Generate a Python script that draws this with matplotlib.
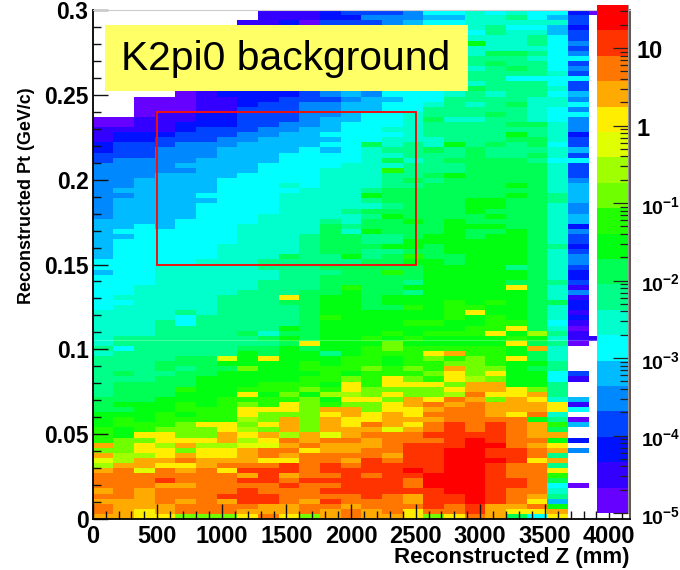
import numpy as np
import matplotlib
matplotlib.use('Agg')
import matplotlib.pyplot as plt
from matplotlib.colors import ListedColormap, BoundaryNorm
from matplotlib.patches import Rectangle
from matplotlib.ticker import LogLocator, NullFormatter, MultipleLocator

plt.rcParams['font.family'] = ['Liberation Sans', 'DejaVu Sans']
plt.rcParams['mathtext.fontset'] = 'custom'
plt.rcParams['mathtext.bf'] = 'Liberation Sans:bold'

# 20 palette steps, bottom to top
level_colors = ['#6600ff', '#3300ff', '#0011ff', '#0044ff', '#0088ff', '#00bbff', '#00ffff',
                '#00ffcc', '#00ff88', '#00ff55', '#00ff11', '#22ff00', '#70ff00', '#a0ff00',
                '#e0ff00', '#ffee00', '#ffaa00', '#ff7700', '#ff3300', '#ff0000']
level_chars = '0123456789abcdefghij'

# one string per Pt bin, top row first, one char per Z bin. '.' = empty bin
cell_rows = [
    "........11123334667676620",
    "........1112244455778653.",
    ".......11203334566777773.",
    "..................786652.",
    "..................687753.",
    "..................777863.",
    "..................a77864.",
    "..................777763.",
    "..................799864.",
    "..................888766.",
    "..................898863.",
    "..................789864.",
    "..................888873.",
    "..................886666.",
    "..................788863.",
    "..................988873.",
    "....01222234546667878865.",
    "..0001122333455668888774.",
    "..0001123344556678789776.",
    "..0001133344556688888764.",
    "..0112233344566788898766.",
    "001112233345566797788764.",
    "001122233445666788889974.",
    "111123334455667788888874.",
    "12223334455666678888a872.",
    "122333445555667778889973.",
    "23334445555669787a898963.",
    "233444555565678898988875.",
    "333444555666677888988973.",
    "344445555666679789999866.",
    "444455556666777888999973.",
    "44444555666777b888999973.",
    "44455556666777889a999973.",
    "445555666667778989999974.",
    "44555566676777889999a975.",
    "455555666677789999999975.",
    "4455566667777a999999a985.",
    "455555666777789999aa9985.",
    "455556666777778999aa9974.",
    "455556666777899999a99974.",
    "45555666777778a9999a9975.",
    "555566667778799a9a999975.",
    "55656667777989999aaa9972.",
    "5666666777797a999a99a974.",
    "5566666777899889aa9aa973.",
    "566666677789988aaaaaa973.",
    "56666677778999aa9aaaa982.",
    "56666677778998899aaaa973.",
    "566666777988a89b99aaa974.",
    "666667778888899aa9aaa974.",
    "6667777788899999aaaa8973.",
    "56677777788899b9aaaaa972.",
    "6667777778899999aaaaa972.",
    "6667777788899998aaaa9983.",
    "667777778889b99aaaaaf971.",
    "667777788899a998aaaaa974.",
    "677777888f9aa9aaaaaaa971.",
    "66777788899aa9aaababa992.",
    "67777788889aa99babbaa972.",
    "77778788889aaaaaabfaa971.",
    "77776888889baaaaababa972.",
    "77786888889aaaabbaabb961.",
    "777888888a9aaaaaaabbf970.",
    "77788889799aaababbbfad81.",
    "788888889a9aababaaaaba711",
    "7888888889faaacaaaaaf980.",
    "868888899a9aabcbbbbbag7..",
    "7888888a9aa8abbbfgbba97..",
    "888899eafaaabbabcbcbf97..",
    "888999aaaababbabbccbaa8..",
    "8889899caabbbcbcbgcca98..",
    "898899aaaaababbbcfcfaa63.",
    "88899aaaaabbcbfcbfdcaa61.",
    "89999aaabbbafbfffcggaa8..",
    "8999baabbbcbfccccfggfc8..",
    "8999aaafacaddcfccdhffg8..",
    "999aaabbbbcaffcgfhgcgf75.",
    "9aaababcbfcbccfghghgggf1.",
    "99aabbbfffcggcffghhgggf6.",
    "aaababbfcccfgfgfhhhgfh7..",
    "ababbbbdcgcgffggghhhha80.",
    "abbbcffcfgcgfhgfhihihgb5.",
    "babcccfdcgcgggeghihihg9..",
    "baffccgfgdgeghhhiiiihgg..",
    "bccfffgdfhghhghhhijihha2.",
    "gcfdgddeeghggghiiijjhgf..",
    "ccffcffghhfgghhiijjiihg4.",
    "gddfgffghghhhhgiijjiih8..",
    "edgghgggffhhgihiijjjifg..",
    "dggffghhhihihiiiijjihh8..",
    "ghehghfiiihiiiijijjihhf..",
    "hhhhhhhgighhihiijjjihhb..",
    "hhhihhhiihiiiiihjjjiih9..",
    "hhhgghhhhihhiiihjjjiih60.",
    "ghghhhhihhhiiiiiijjihh7..",
    "hhghhhiiihhhhihgiijihg8..",
    "ggghghgiihgihhhgiijihf5..",
    "hggghhhhgghhghhhihiggha..",
    "hgfghhhggghghghfhhigffg..",
    "ggffcccfhfcghggfcfhg96f..",
]

z_bin_width = 160
pt_bin_width = 0.003
cbar_decade_ticks = [1e-5, 1e-4, 1e-3, 1e-2, 1e-1, 1, 10]
cbar_tick_labels = [r'$\mathbf{10^{-5}}$', r'$\mathbf{10^{-4}}$', r'$\mathbf{10^{-3}}$',
                    r'$\mathbf{10^{-2}}$', r'$\mathbf{10^{-1}}$', '1', '10']

W, H = 680, 570


def px_axes(x0, y0, x1, y1):
    # pixel box with y from the top of the picture
    return fig.add_axes([x0 / W, 1 - y1 / H, (x1 - x0) / W, (y1 - y0) / H])


log_lo, log_hi = -5, 1.555
edges = np.logspace(log_lo, log_hi, 21)
mids = np.sqrt(edges[:-1] * edges[1:])
cmap = ListedColormap(level_colors)
cmap.set_bad('white')
norm = BoundaryNorm(edges, 20)

values = np.full((100, 25), np.nan)
for i, row in enumerate(cell_rows):
    for j, ch in enumerate(row):
        if ch != '.':
            values[99 - i, j] = mids[level_chars.index(ch)]

fig = plt.figure(figsize=(W / 100, H / 100), dpi=100)
ax = px_axes(92.7, 10, 630, 519)
z_edges = np.arange(26) * z_bin_width
pt_edges = np.arange(101) * pt_bin_width
ax.pcolormesh(z_edges, pt_edges, np.ma.masked_invalid(values), cmap=cmap, norm=norm)
ax.set_xlim(0, 4160)
ax.set_ylim(0, 0.3)

ax.xaxis.set_minor_locator(MultipleLocator(100))
ax.yaxis.set_minor_locator(MultipleLocator(0.01))
ax.tick_params(which='major', direction='in', length=11, width=1.0, color='#111111')
ax.tick_params(which='minor', direction='in', length=5.5, width=1.0, color='#111111')
ax.set_xticks(np.arange(0, 4001, 500))
ax.set_xticklabels([str(v) for v in range(0, 4001, 500)], fontsize=17, fontweight='bold')
ax.set_yticks([0, 0.05, 0.1, 0.15, 0.2, 0.25, 0.3])
ax.set_yticklabels(['0', '0.05', '0.1', '0.15', '0.2', '0.25', '0.3'], fontsize=16.5, fontweight='bold')
ax.tick_params(axis='x', pad=4)
ax.tick_params(axis='y', pad=3)
for s in ['left', 'bottom']:
    ax.spines[s].set_linewidth(1.3)
ax.spines['top'].set_color('#cccccc')
ax.spines['top'].set_linewidth(0.8)
ax.spines['right'].set_color('#554444')
ax.spines['right'].set_linewidth(1.3)

# faint seam across the plot
ax.axhline(0.1055, color='white', alpha=0.25, lw=0.8)

ax.add_patch(Rectangle((500, 0.15), 2000, 0.09, fill=False, edgecolor='#ee1111', lw=1.4, zorder=5))

# title box
fig.patches.append(Rectangle((105 / W, 1 - 91 / H), 363 / W, 66 / H, transform=fig.transFigure,
                             facecolor='#ffff66', edgecolor='none', zorder=6))
fig.text(286 / W, 1 - 59 / H, 'K2pi0 background', fontsize=29.3, fontweight='normal',
         ha='center', va='center', color='black', zorder=7)

fig.text(27 / W, 1 - 196 / H, 'Reconstructed Pt (GeV/c)', rotation=90, fontsize=12.9, fontweight='bold',
         ha='center', va='center')
fig.text(630 / W, 1 - 558 / H, 'Reconstructed Z (mm)', fontsize=16, fontweight='bold',
         ha='right', va='center')

# palette on top of the plot
cax = px_axes(597, 5, 628, 513)
cax.set_zorder(10)
cax.pcolormesh([0, 1], edges, np.array(mids).reshape(-1, 1), cmap=cmap, norm=norm)
cax.set_yscale('log')
cax.set_ylim(10 ** log_lo, 10 ** log_hi)
cax.set_xlim(0, 1)
cax.set_xticks([])
cax.yaxis.set_ticks_position('right')
cax.yaxis.set_major_locator(LogLocator(base=10, numticks=10))
cax.yaxis.set_minor_locator(LogLocator(base=10, subs=np.arange(2, 10), numticks=12))
cax.yaxis.set_major_formatter(NullFormatter())
cax.yaxis.set_minor_formatter(NullFormatter())
cax.tick_params(which='major', direction='in', length=11, width=0.9, color='#222222')
cax.tick_params(which='minor', direction='in', length=5.5, width=0.9, color='#222222')
for s in ['left', 'top', 'bottom']:
    cax.spines[s].set_visible(False)
cax.spines['right'].set_color('#999999')
for v, lab in zip(cbar_decade_ticks, cbar_tick_labels):
    px = 636 if v >= 1 else 641
    size = 17 if v >= 1 else 14
    py = 513 - (np.log10(v) - log_lo) * 77.5
    fig.text(px / W, 1 - (py + 4) / H, lab, fontsize=size, fontweight='bold', ha='left', va='center')

fig.savefig('out.png', dpi=100)
